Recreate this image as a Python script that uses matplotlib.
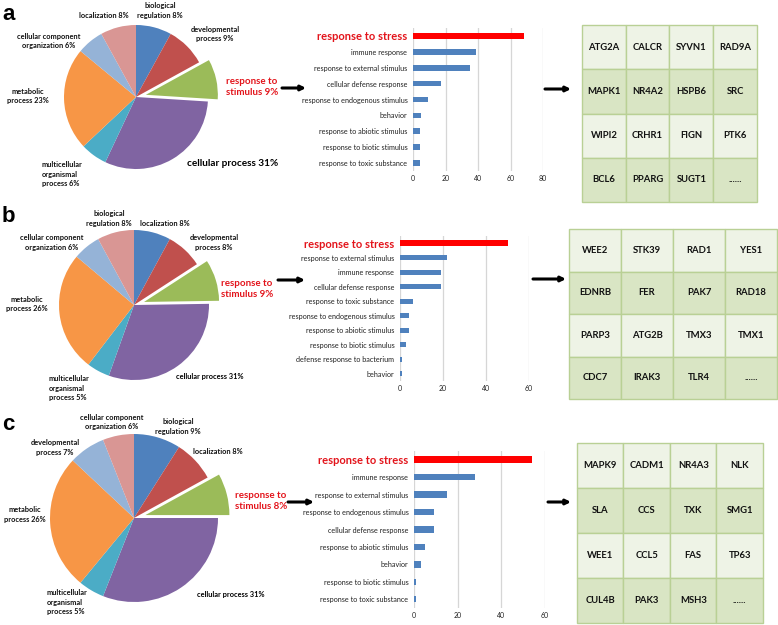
import matplotlib
matplotlib.use("Agg")
import matplotlib.pyplot as plt
from matplotlib.patches import Rectangle

plt.rcParams['font.family'] = ['Lato', 'DejaVu Sans']

W, H = 778, 625

# PIE DATA (clockwise from 12 o'clock)
pie_a_names = ['biological regulation', 'developmental process', 'response to stimulus', 'cellular process',
               'multicellular organismal process', 'metabolic process', 'cellular component organization', 'localization']
pie_a_values = [8, 9, 9, 31, 6, 23, 6, 8]

pie_b_names = ['localization', 'developmental process', 'response to stimulus', 'cellular process',
               'multicellular organismal process', 'metabolic process', 'cellular component organization', 'biological regulation']
pie_b_values = [8, 8, 9, 31, 5, 26, 6, 8]

pie_c_names = ['biological regulation', 'localization', 'response to stimulus', 'cellular process',
               'multicellular organismal process', 'metabolic process', 'developmental process', 'cellular component organization']
pie_c_values = [9, 8, 8, 31, 5, 26, 7, 6]

# BAR DATA
bar_a_terms = ['response to stress', 'immune response', 'response to external stimulus', 'cellular defense response',
               'response to endogenous stimulus', 'behavior', 'response to abiotic stimulus',
               'response to biotic stimulus', 'response to toxic substance']
bar_a_counts = [68, 39, 35, 17, 9, 5, 4, 4, 4]

bar_b_terms = ['response to stress', 'response to external stimulus', 'immune response', 'cellular defense response',
               'response to toxic substance', 'response to endogenous stimulus', 'response to abiotic stimulus',
               'response to biotic stimulus', 'defense response to bacterium', 'behavior']
bar_b_counts = [50, 22, 19, 19, 6, 4, 4, 3, 1, 1]

bar_c_terms = ['response to stress', 'immune response', 'response to external stimulus',
               'response to endogenous stimulus', 'cellular defense response', 'response to abiotic stimulus',
               'behavior', 'response to biotic stimulus', 'response to toxic substance']
bar_c_counts = [54, 28, 15, 9, 9, 5, 3, 1, 1]

# GENES
genes_a = ['ATG2A', 'CALCR', 'SYVN1', 'RAD9A', 'MAPK1', 'NR4A2', 'HSPB6', 'SRC',
           'WIPI2', 'CRHR1', 'FIGN', 'PTK6', 'BCL6', 'PPARG', 'SUGT1', '......']
genes_b = ['WEE2', 'STK39', 'RAD1', 'YES1', 'EDNRB', 'FER', 'PAK7', 'RAD18',
           'PARP3', 'ATG2B', 'TMX3', 'TMX1', 'CDC7', 'IRAK3', 'TLR4', '......']
genes_c = ['MAPK9', 'CADM1', 'NR4A3', 'NLK', 'SLA', 'CCS', 'TXK', 'SMG1',
           'WEE1', 'CCL5', 'FAS', 'TP63', 'CUL4B', 'PAK3', 'MSH3', '......']

slice_colors = ['#4F81BD', '#C0504D', '#9BBB59', '#8064A2', '#4BACC6', '#F79646', '#95B3D7', '#D99694']
wrap = {'biological regulation': 'biological\nregulation', 'developmental process': 'developmental\nprocess',
        'response to stimulus': 'response to\nstimulus', 'cellular process': 'cellular process',
        'multicellular organismal process': 'multicellular\norganismal\nprocess',
        'metabolic process': 'metabolic\nprocess',
        'cellular component organization': 'cellular component\norganization', 'localization': 'localization'}
RED = '#E3141B'

fig = plt.figure(figsize=(W / 100, H / 100), dpi=100)
canvas = fig.add_axes([0, 0, 1, 1])
canvas.set_xlim(0, W)
canvas.set_ylim(H, 0)
canvas.axis('off')


def px_rect(x0, y0, x1, y1):
    return [x0 / W, 1 - y1 / H, (x1 - x0) / W, (y1 - y0) / H]


##########################################################################
# PIES
def draw_pie(names, values, cx, cy, r, label_pos, big_cp):
    ax = fig.add_axes(px_rect(cx - 1.25 * r, cy - 1.25 * r, cx + 1.25 * r, cy + 1.25 * r))
    explode = [0.14 if n == 'response to stimulus' else 0 for n in names]
    ax.pie(values, colors=slice_colors, startangle=90, counterclock=False, explode=explode,
           wedgeprops=dict(linewidth=0))
    ax.set_xlim(-1.25, 1.25)
    ax.set_ylim(-1.25, 1.25)
    for n, v, (x, y, ha) in zip(names, values, label_pos):
        s = wrap[n] + ' %d%%' % v
        if n == 'response to stimulus':
            canvas.text(x, y, s, ha='center', va='center', fontsize=7, fontweight='bold',
                        color=RED, linespacing=1.15)
        elif n == 'cellular process':
            canvas.text(x, y, s, ha=ha, va='center', fontsize=7.2 if big_cp else 5.3,
                        fontweight='bold', color='black')
        else:
            canvas.text(x, y, s, ha=ha, va='center', fontsize=5.3, fontweight='bold',
                        color='#111111', linespacing=1.45)


draw_pie(pie_a_names, pie_a_values, 136, 97, 72,
         [(160, 10.5, 'center'), (215, 34, 'center'), (252, 87, 'center'), (187, 163, 'left'),
          (42, 174, 'left'), (28, 96, 'center'), (49, 41, 'center'), (104, 16, 'center')], True)
draw_pie(pie_b_names, pie_b_values, 134, 305, 75,
         [(165, 224, 'center'), (214, 242.5, 'center'), (247, 289, 'center'), (176, 376, 'left'),
          (49, 388, 'left'), (27, 304, 'center'), (52, 242.5, 'center'), (109, 218.5, 'center')], False)
draw_pie(pie_c_names, pie_c_values, 134, 518, 84,
         [(178, 426.5, 'center'), (218, 452, 'center'), (261, 501, 'center'), (197, 595, 'left'),
          (47, 602, 'left'), (25, 514.5, 'center'), (55, 447.5, 'center'), (112, 422, 'center')], False)


##########################################################################
# BARS
def draw_bars(terms, counts, x0, x1, ytop, ybot, xmax):
    ax = fig.add_axes(px_rect(x0, ytop, x1, ybot))
    pos = list(range(len(terms)))
    colors = ['#FF0000'] + ['#4F81BD'] * (len(terms) - 1)
    heights = [0.42] + [0.36] * (len(terms) - 1)
    ax.barh(pos, counts, height=heights, color=colors)
    ax.set_ylim(len(terms) - 0.5, -0.5)
    ax.set_xlim(0, xmax)
    ax.set_xticks(range(0, xmax + 1, 20))
    ax.set_yticks(pos)
    ax.set_yticklabels(terms)
    for i, t in enumerate(ax.get_yticklabels()):
        if i == 0:
            t.set_color(RED)
            t.set_fontsize(8)
            t.set_fontweight('bold')
        else:
            t.set_fontsize(5.2)
            t.set_color('#222222')
    ax.tick_params(axis='y', length=0, pad=4)
    ax.tick_params(axis='x', length=0, labelsize=5, pad=3, colors='#222222')
    for s in ax.spines.values():
        s.set_visible(False)
    ax.grid(axis='x', color='#D6D6D6', linewidth=0.9)
    ax.set_axisbelow(True)
    ax.patch.set_alpha(0)


draw_bars(bar_a_terms, bar_a_counts, 413, 543, 28, 171, 80)
draw_bars(bar_b_terms, bar_b_counts, 400, 529, 236, 381, 60)
draw_bars(bar_c_terms, bar_c_counts, 414, 545, 451, 608, 60)


##########################################################################
# GENE TABLES
def draw_table(genes, x0, x1, y0, y1):
    cw = (x1 - x0) / 4
    ch = (y1 - y0) / 4
    for k, g in enumerate(genes):
        row, col = divmod(k, 4)
        fc = '#EEF3E6' if row % 2 == 0 else '#D9E5C4'
        canvas.add_patch(Rectangle((x0 + col * cw, y0 + row * ch), cw, ch, facecolor=fc,
                                   edgecolor='#B9D095', linewidth=1.0))
        canvas.text(x0 + (col + 0.5) * cw, y0 + (row + 0.5) * ch, g, ha='center', va='center',
                    fontsize=6.8, fontweight='bold', color='#111111')


draw_table(genes_a, 582, 757, 25, 202)
draw_table(genes_b, 569, 777, 229, 399)
draw_table(genes_c, 577, 763, 443, 623)

##########################################################################
# ARROWS
for (xa, xb, y) in [(282, 306, 88), (545, 571, 89), (278, 305, 280), (533, 566, 279),
                    (288, 314, 502), (548, 571, 502)]:
    canvas.annotate('', xy=(xb, y), xytext=(xa, y),
                    arrowprops=dict(arrowstyle='-|>', color='black', lw=2.2, mutation_scale=7,
                                    shrinkA=0, shrinkB=0))

# PANEL LETTERS
for letter, y in [('a', 14), ('b', 216), ('c', 425)]:
    canvas.text(2, y, letter, ha='left', va='center', fontsize=16, fontweight='bold',
                family='Liberation Sans')

fig.savefig('out.png', dpi=100)
